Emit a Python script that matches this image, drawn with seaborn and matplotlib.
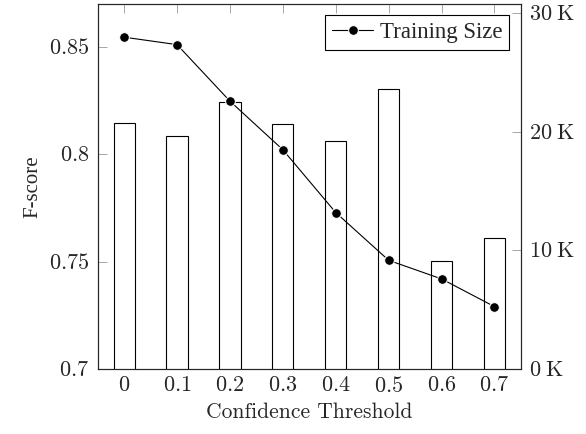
import numpy as np
import matplotlib
matplotlib.use("Agg")
import matplotlib.pyplot as plt
import seaborn as sns

thresholds = ["0", "0.1", "0.2", "0.3", "0.4", "0.5", "0.6", "0.7"]
fscore = [0.8147, 0.8085, 0.8242, 0.8143, 0.8062, 0.8304, 0.7504, 0.7608]
train_size = [28000, 27370, 22600, 18500, 13200, 9170, 7600, 5260]
left_ticks = [0.7, 0.75, 0.8, 0.85]
left_labels = ["0.7", "0.75", "0.8", "0.85"]
right_ticks = [0, 10000, 20000, 30000]
right_labels = ["0", "10", "20", "30"]

sns.set_style("ticks")
plt.rcParams["mathtext.fontset"] = "cm"
plt.rcParams["font.family"] = ["Liberation Serif", "DejaVu Serif"]

fig = plt.figure(figsize=(5.86, 4.34), dpi=100)
ax = fig.add_axes([0.1667, 0.1498, 0.889 - 0.1667, 0.9908 - 0.1498])

sns.barplot(x=thresholds, y=fscore, ax=ax, width=0.4, color="white",
            edgecolor="black", linewidth=0.8, saturation=1)
ax.set_ylim(0.7, 0.87)
ax.set_xlim(-0.5, 7.5)
ax.set_yticks(left_ticks)
ax.set_yticklabels(["$" + s + "$" for s in left_labels], fontsize=16)
ax.set_xticks(range(len(thresholds)))
ax.set_xticklabels(["$" + s + "$" for s in thresholds], fontsize=16)
ax.set_ylabel("F-score", fontsize=15, labelpad=5)
ax.set_xlabel("Confidence Threshold", fontsize=15.5, family="cmr10", labelpad=4)
ax.tick_params(axis="both", direction="in", length=6.3, width=0.6, color="#999999")
ax.tick_params(axis="x", top=True, pad=6)
ax.tick_params(axis="y", right=False, pad=6)
for s in ax.spines.values():
    s.set_linewidth(0.8)

ax2 = ax.twinx()
sns.lineplot(x=np.arange(len(train_size)), y=train_size, ax=ax2, color="black",
             marker="o", markersize=7, linewidth=0.8, label="Training Size")
ax2.set_ylim(0, 30800)
ax2.set_yticks(right_ticks)
ax2.set_yticklabels([r"$" + s + r"\;\mathrm{K}$" for s in right_labels], fontsize=16)
ax2.set_ylabel("")
ax2.tick_params(axis="y", direction="in", length=6.3, width=0.6, color="#999999", pad=6)
ax2.legend(loc="upper right", fontsize=16.5, frameon=True, fancybox=False,
           edgecolor="black", framealpha=1, borderaxespad=0.5,
           handlelength=1.8, handletextpad=0.3, borderpad=0.3)
ax2.get_legend().get_frame().set_linewidth(0.8)

fig.savefig("out.png", dpi=100)
